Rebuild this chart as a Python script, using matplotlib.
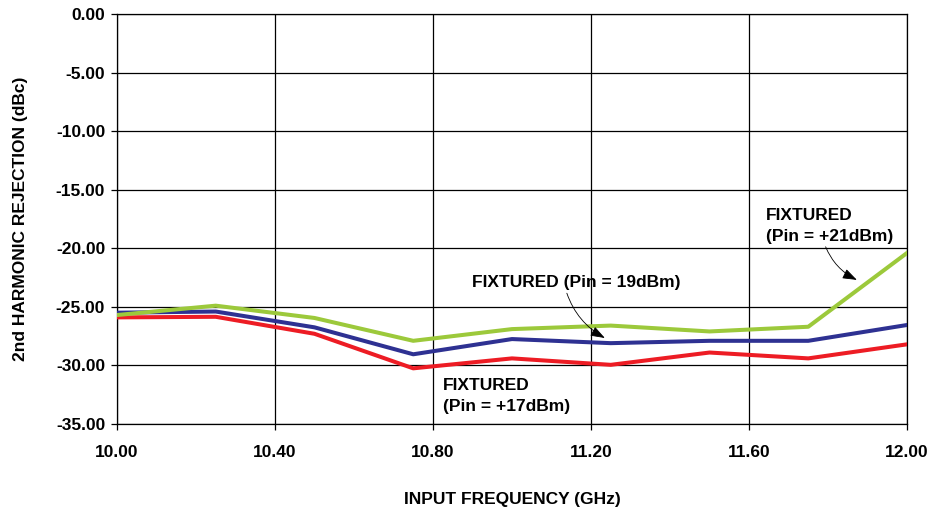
import matplotlib
matplotlib.use("Agg")
import matplotlib.pyplot as plt
import numpy as np

plt.rcParams['font.family'] = ['Liberation Sans', 'DejaVu Sans']
plt.rcParams['font.weight'] = 'bold'

# data
freq = [10.00, 10.25, 10.50, 10.75, 11.00, 11.25, 11.50, 11.75, 12.00]
pin17 = [-25.9, -25.85, -27.3, -30.25, -29.4, -29.95, -28.9, -29.4, -28.2]
pin19 = [-25.5, -25.4, -26.75, -29.05, -27.75, -28.1, -27.9, -27.9, -26.55]
pin21 = [-25.7, -24.9, -25.95, -27.9, -26.9, -26.6, -27.1, -26.7, -20.4]

xticks = [10.00, 10.40, 10.80, 11.20, 11.60, 12.00]
yticks = [0, -5, -10, -15, -20, -25, -30, -35]

fs = 12.5

fig = plt.figure(figsize=(9.32, 5.12), dpi=100)
ax = fig.add_axes([0.1255, 0.1719, 0.8477, 0.8008])

ax.plot(freq, pin17, color='#ed1c24', lw=2.9, zorder=3)
ax.plot(freq, pin19, color='#2e3192', lw=2.9, zorder=3)
ax.plot(freq, pin21, color='#9cc93b', lw=2.9, zorder=3)

ax.set_xlim(10.0, 12.0)
ax.set_ylim(-35, 0)
ax.set_xticks(xticks)
ax.set_xticklabels(['%.2f' % t for t in xticks])
ax.set_yticks(yticks)
ax.set_yticklabels(['%.2f' % t for t in yticks])
ax.grid(True, color='black', lw=0.9)
ax.tick_params(direction='out', length=4, width=0.9, labelsize=fs)
ax.tick_params(axis='x', pad=11)
ax.tick_params(axis='y', pad=4.5)
for s in ax.spines.values():
    s.set_linewidth(0.9)

ax.set_xlabel('INPUT FREQUENCY (GHz)', fontsize=fs, fontweight='bold', labelpad=23)
ax.set_ylabel('2nd HARMONIC REJECTION (dBc)', fontsize=fs, fontweight='bold', labelpad=20)

arrow = dict(arrowstyle='-|>,head_length=0.7,head_width=0.25', color='black', lw=0.6,
             connectionstyle='arc3,rad=0.2', shrinkA=0, shrinkB=0)

ax.text(10.825, -32.6, 'FIXTURED\n(Pin = +17dBm)', fontsize=fs, fontweight='bold',
        va='center', ha='left', linespacing=1.5)
ax.annotate('FIXTURED (Pin = 19dBm)', xy=(11.235, -27.66), xytext=(10.899, -22.96),
            fontsize=fs, fontweight='bold', va='center', ha='left',
            arrowprops=dict(arrow, relpos=(0.45, 0.0)))
ax.annotate('FIXTURED\n(Pin = +21dBm)', xy=(11.873, -22.7), xytext=(11.643, -18.1),
            fontsize=fs, fontweight='bold', va='center', ha='left', linespacing=1.5,
            arrowprops=dict(arrow, relpos=(0.46, 0.0)))

fig.savefig('out.png', dpi=100)
